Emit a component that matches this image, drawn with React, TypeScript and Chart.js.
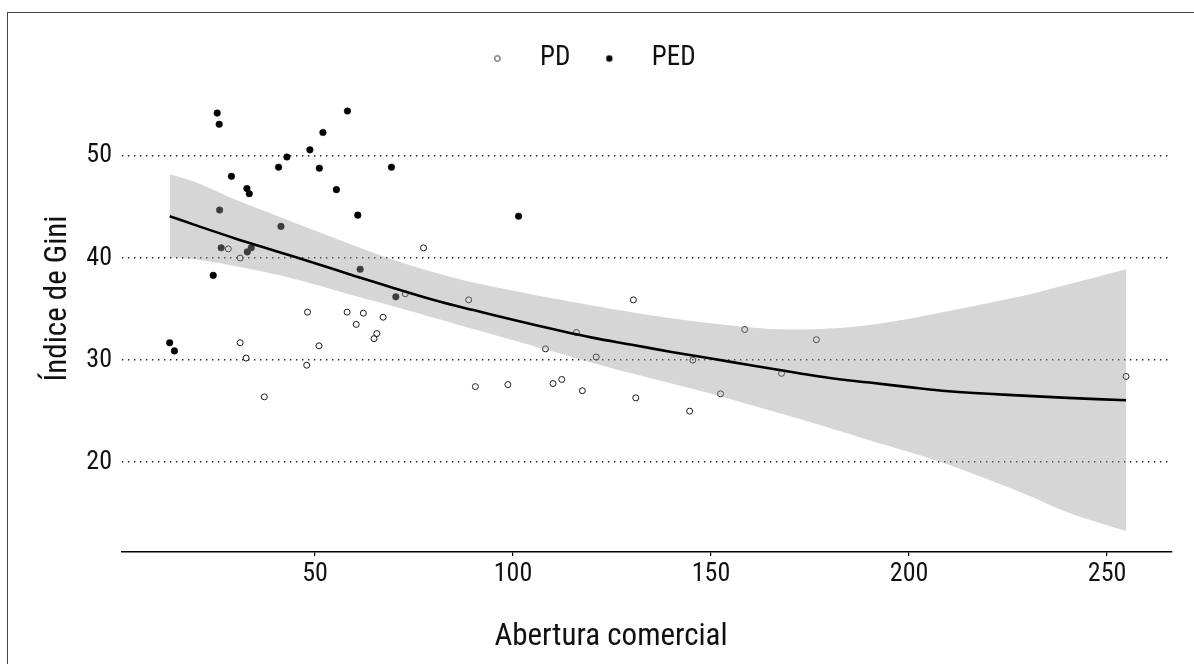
import React, { useEffect, useRef } from 'react';
import { Chart, registerables } from 'chart.js';

Chart.register(...registerables);

// ---- data ----
const PD_X = [28.1, 31.1, 72.8, 48.1, 58.1, 62.2, 67.2, 60.4, 65.6, 64.9, 31.1, 51.0, 32.6, 47.9, 37.2, 77.4, 88.8, 130.4, 158.5, 176.6, 116.0, 108.2, 121.0, 145.4, 167.8, 90.5, 98.7, 110.1, 112.3, 117.5, 131.0, 152.4, 144.6, 254.8];
const PD_Y = [40.9, 40.0, 36.5, 34.7, 34.7, 34.6, 34.2, 33.5, 32.6, 32.1, 31.7, 31.4, 30.2, 29.5, 26.4, 41.0, 35.9, 35.9, 33.0, 32.0, 32.7, 31.1, 30.3, 30.0, 28.7, 27.4, 27.6, 27.7, 28.1, 27.0, 26.3, 26.7, 25.0, 28.4];

const PED_X = [25.3, 25.8, 58.2, 52.0, 48.7, 42.9, 40.8, 51.1, 69.3, 28.9, 55.4, 32.8, 33.4, 60.8, 41.4, 25.9, 26.3, 32.9, 33.9, 61.4, 70.4, 24.3, 13.3, 14.5, 101.4];
const PED_Y = [54.2, 53.1, 54.4, 52.3, 50.6, 49.9, 48.9, 48.8, 48.9, 48.0, 46.7, 46.8, 46.3, 44.2, 43.1, 44.7, 41.0, 40.6, 41.0, 38.9, 36.2, 38.3, 31.7, 30.9, 44.1];

const FIT_X = [13.3, 20, 30, 40, 50, 60, 70, 80, 90, 100, 110, 120, 130, 140, 150, 160, 170, 180, 190, 200, 210, 220, 230, 240, 254.8];
const FIT_Y = [44.1, 43.2, 41.9, 40.7, 39.5, 38.25, 37.05, 35.9, 34.9, 33.95, 33.05, 32.2, 31.5, 30.8, 30.15, 29.5, 28.85, 28.25, 27.8, 27.35, 26.95, 26.7, 26.5, 26.3, 26.06];
const FIT_HI = [48.2, 47.4, 45.7, 44.2, 42.7, 41.2, 39.8, 38.6, 37.6, 36.8, 36.05, 35.35, 34.7, 34.1, 33.6, 33.2, 33.0, 33.1, 33.45, 34.05, 34.8, 35.6, 36.4, 37.4, 38.9];
const FIT_LO = [40.07, 39.85, 39.2, 38.4, 37.4, 36.3, 35.25, 34.15, 33.05, 31.95, 30.85, 29.75, 28.7, 27.7, 26.7, 25.6, 24.5, 23.35, 22.15, 21.0, 19.75, 18.3, 16.75, 15.1, 13.25];

const X_TICKS = [50, 100, 150, 200, 250];
const Y_TICKS = [20, 30, 40, 50];

const SERIES_LABELS = ['PD', 'PED'];
const X_TITLE = 'Abertura comercial';
const Y_TITLE = 'Índice de Gini';

// ---- styling ----
const TEXT = '#111';
const FAMILY = 'Roboto, "DejaVu Sans Condensed", sans-serif';
const STRETCH = '400 condensed';

const pts = (xs: number[], ys: number[]) => xs.map((x, i) => ({ x, y: ys[i] }));

function makeIcon(filled: boolean) {
  const c = document.createElement('canvas');
  c.width = 10;
  c.height = 10;
  const g = c.getContext('2d')!;
  g.beginPath();
  g.arc(5, 5, filled ? 3.2 : 2.8, 0, Math.PI * 2);
  if (filled) {
    g.fillStyle = '#000';
    g.fill();
  } else {
    g.fillStyle = '#fff';
    g.fill();
    g.strokeStyle = '#333';
    g.lineWidth = 1;
    g.stroke();
  }
  return c;
}

const axisTitles = {
  id: 'axisTitles',
  afterDraw(chart: any) {
    const { ctx, chartArea: a } = chart;
    ctx.save();
    ctx.fillStyle = TEXT;
    ctx.textAlign = 'center';
    ctx.textBaseline = 'alphabetic';
    ctx.font = `${STRETCH} 31px ${FAMILY}`;
    ctx.fillText(X_TITLE, (a.left + a.right) / 2 - 36, a.bottom + 93);
    ctx.translate(a.left - 56, (a.top + a.bottom) / 2 - 22);
    ctx.rotate(-Math.PI / 2);
    ctx.fillText(Y_TITLE, 0, 0);
    ctx.restore();
  },
};

const legendSpacer = {
  id: 'legendSpacer',
  beforeInit(chart: any) {
    const lg = chart.legend;
    if (!lg) return;
    const orig = lg.fit;
    lg.fit = function () {
      orig.call(this);
      this.height += 7;
      if (this.lineWidths && this.lineWidths.length) this.lineWidths[0] += 16;
    };
  },
};

export default function App() {
  const ref = useRef<HTMLCanvasElement | null>(null);

  useEffect(() => {
    if (!ref.current) return;
    const icons = [makeIcon(false), makeIcon(true)];
    const chart = new Chart(ref.current, {
      type: 'scatter',
      data: {
        datasets: [
          {
            label: SERIES_LABELS[0],
            data: pts(PD_X, PD_Y),
            pointStyle: 'circle',
            pointRadius: 3,
            borderWidth: 1,
            borderColor: '#1a1a1a',
            backgroundColor: 'rgba(0,0,0,0)',
            order: 4,
          },
          {
            label: SERIES_LABELS[1],
            data: pts(PED_X, PED_Y),
            pointStyle: 'circle',
            pointRadius: 3.3,
            borderWidth: 0.5,
            borderColor: '#000',
            backgroundColor: '#000',
            order: 3,
          },
          {
            label: 'upper',
            data: pts(FIT_X, FIT_HI),
            showLine: true,
            pointRadius: 0,
            borderColor: 'rgba(0,0,0,0)',
            borderWidth: 1,
            backgroundColor: 'rgba(153,153,153,0.4)',
            fill: '+1',
            tension: 0.4,
            order: 1,
          },
          {
            label: 'lower',
            data: pts(FIT_X, FIT_LO),
            showLine: true,
            pointRadius: 0,
            borderColor: 'rgba(0,0,0,0)',
            borderWidth: 1,
            fill: false,
            tension: 0.4,
            order: 2,
          },
          {
            label: 'fit',
            data: pts(FIT_X, FIT_Y),
            showLine: true,
            pointRadius: 0,
            borderColor: '#000',
            borderWidth: 2.6,
            fill: false,
            tension: 0.4,
            order: 0,
          },
        ],
      },
      options: {
        responsive: false,
        animation: false,
        events: [],
        layout: { padding: { top: 22, right: 22, left: 0, bottom: 0 } },
        plugins: {
          tooltip: { enabled: false },
          legend: {
            display: true,
            position: 'top',
            align: 'center',
            labels: {
              usePointStyle: true,
              pointStyleWidth: 58,
              boxHeight: 7,
              padding: 10,
              color: TEXT,
              font: { family: FAMILY, weight: STRETCH, size: 27 },
              generateLabels: () =>
                SERIES_LABELS.map((t, i) => ({
                  text: t,
                  pointStyle: icons[i] as any,
                  fillStyle: '#000',
                  strokeStyle: '#000',
                  lineWidth: 0,
                  hidden: false,
                  datasetIndex: i,
                  fontColor: TEXT,
                })),
            },
          },
        },
        scales: {
          x: {
            type: 'linear',
            min: 1.26,
            max: 266.4,
            afterBuildTicks: (s: any) => {
              s.ticks = X_TICKS.map((v) => ({ value: v }));
            },
            afterFit: (s: any) => {
              s.height = 112;
            },
            grid: {
              display: true,
              drawOnChartArea: false,
              drawTicks: true,
              tickLength: 4,
              color: '#000',
              lineWidth: 1.2,
            },
            border: { display: true, color: '#000', width: 1.6 },
            ticks: {
              padding: 3,
              color: TEXT,
              font: { family: FAMILY, weight: STRETCH, size: 26 },
              maxRotation: 0,
              autoSkip: false,
            },
          },
          y: {
            type: 'linear',
            min: 11.2,
            max: 56.56,
            afterBuildTicks: (s: any) => {
              s.ticks = Y_TICKS.map((v) => ({ value: v }));
            },
            afterFit: (s: any) => {
              s.width = 114;
            },
            grid: {
              display: true,
              drawTicks: false,
              color: '#222',
              lineWidth: 1.4,
            },
            border: { display: false, dash: [1.4, 4.6] },
            ticks: {
              padding: 10,
              color: TEXT,
              font: { family: FAMILY, weight: STRETCH, size: 26 },
              autoSkip: false,
            },
          },
        },
      },
      plugins: [legendSpacer, axisTitles],
    } as any);
    return () => chart.destroy();
  }, []);

  return (
    <div style={{ position: 'fixed', inset: 0, overflow: 'hidden', background: '#fff' }}>
      <div
        style={{
          position: 'absolute',
          left: 7,
          top: 12,
          width: 1240,
          height: 720,
          border: '1px solid #444',
          boxSizing: 'border-box',
        }}
      >
        <canvas ref={ref} width={1186} height={651} style={{ display: 'block' }} />
      </div>
    </div>
  );
}
